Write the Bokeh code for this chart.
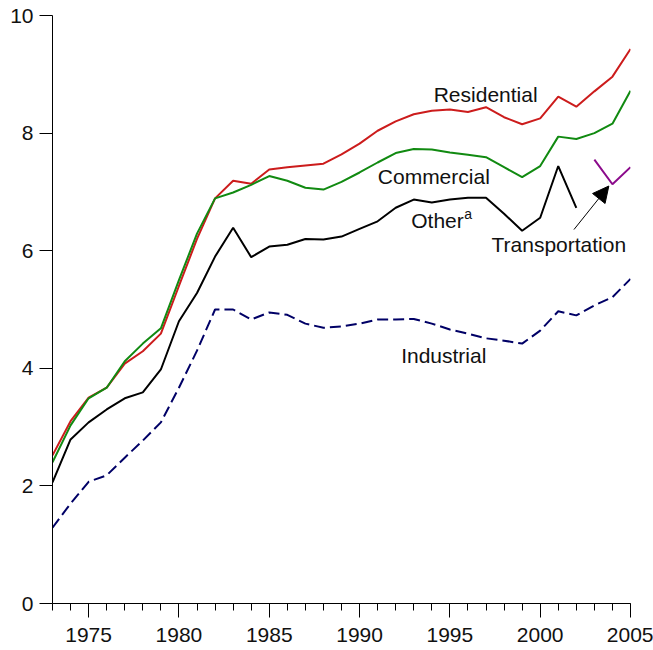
from bokeh.plotting import figure
from bokeh.models import Range1d, FixedTicker, Arrow, NormalHead, Label
from bokeh.embed import file_html
from bokeh.resources import INLINE

# ---- data ----
years = list(range(1973, 2006))
residential = [2.52, 3.10, 3.50, 3.67, 4.08, 4.29, 4.59, 5.40, 6.20, 6.89, 7.19, 7.14, 7.38,
               7.42, 7.45, 7.48, 7.64, 7.82, 8.04, 8.20, 8.32, 8.38, 8.40, 8.36, 8.44, 8.27,
               8.15, 8.25, 8.62, 8.45, 8.71, 8.96, 9.43]
commercial = [2.40, 3.03, 3.49, 3.67, 4.12, 4.42, 4.68, 5.50, 6.29, 6.89, 6.99, 7.12, 7.27,
              7.19, 7.07, 7.04, 7.17, 7.33, 7.50, 7.66, 7.73, 7.72, 7.67, 7.63, 7.59, 7.42,
              7.25, 7.44, 7.94, 7.90, 8.00, 8.16, 8.72]
other_years = list(range(1973, 2003))
other = [2.06, 2.79, 3.08, 3.30, 3.49, 3.59, 3.98, 4.80, 5.28, 5.90, 6.39, 5.89, 6.07, 6.10,
         6.20, 6.19, 6.24, 6.37, 6.50, 6.73, 6.87, 6.82, 6.87, 6.90, 6.90, 6.63, 6.34, 6.56,
         7.44, 6.73]
transport_years = [2003, 2004, 2005]
transportation = [7.55, 7.13, 7.42]
industrial = [1.29, 1.70, 2.07, 2.18, 2.48, 2.77, 3.08, 3.67, 4.30, 5.00, 5.00, 4.83, 4.95,
              4.91, 4.76, 4.69, 4.71, 4.76, 4.83, 4.83, 4.84, 4.76, 4.66, 4.59, 4.51, 4.47,
              4.42, 4.64, 4.97, 4.90, 5.07, 5.21, 5.52]
major_ticks_x = [1975, 1980, 1985, 1990, 1995, 2000, 2005]
ticks_y = [0, 2, 4, 6, 8, 10]

FONT = "Liberation Sans"

p = figure(width=653, height=650, x_range=Range1d(1973, 2005), y_range=Range1d(0, 10),
           output_backend="svg", toolbar_location=None,
           min_border_left=52, min_border_right=23, min_border_top=15, min_border_bottom=47)
p.outline_line_color = None
p.grid.visible = False
p.background_fill_color = "white"
p.border_fill_color = "white"

for ax in (p.xaxis[0], p.yaxis[0]):
    ax.axis_line_color = "black"
    ax.axis_line_width = 1
    ax.major_tick_line_color = "black"
    ax.minor_tick_line_color = "black"
    ax.major_tick_in = 0
    ax.minor_tick_in = 0
    ax.major_label_text_font = FONT
    ax.major_label_text_font_size = "21px"
    ax.major_label_text_color = "#111111"

p.xaxis.ticker = FixedTicker(ticks=major_ticks_x, minor_ticks=years)
p.xaxis.major_tick_out = 14
p.xaxis.minor_tick_out = 7
p.xaxis.major_label_standoff = 10

p.yaxis.ticker = FixedTicker(ticks=ticks_y, minor_ticks=[])
p.yaxis.major_tick_out = 13
p.yaxis.minor_tick_out = 0
p.yaxis.major_label_standoff = 6

p.line(years, industrial, line_color="#000066", line_width=2, line_dash="11 5")
p.line(years, residential, line_color="#cc1c1c", line_width=2)
p.line(years, commercial, line_color="#118a11", line_width=2)
p.line(other_years, other, line_color="black", line_width=2)
p.line(transport_years, transportation, line_color="#8b0a8b", line_width=2)

def lab(x, y, t, size="21px", align="center"):
    p.add_layout(Label(x=x, y=y, text=t, text_font=FONT, text_font_size=size,
                       text_color="#111111", text_align=align, text_baseline="alphabetic"))

lab(1996.98, 8.65, "Residential")
lab(1994.11, 7.27, "Commercial")
lab(1992.86, 6.52, "Other", align="left")
lab(1995.80, 6.62, "a", size="14px", align="left")
lab(2001.03, 6.11, "Transportation")
lab(1994.66, 4.22, "Industrial")

p.add_layout(Arrow(x_start=2001.87, y_start=6.36, x_end=2003.80, y_end=7.10,
                   line_color="black", line_width=1,
                   end=NormalHead(size=16, fill_color="black", line_color="black")))

open("out.html", "w").write(file_html(p, INLINE))
